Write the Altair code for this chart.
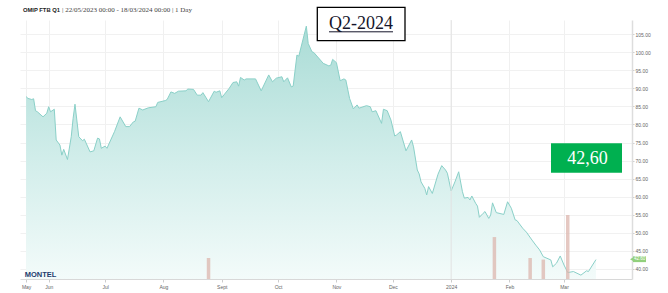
import altair as alt
import pandas as pd

# ---------------- data ----------------
dates = [
    "2023-05-20", "2023-05-21", "2023-05-23", "2023-05-24", "2023-05-25", "2023-05-26", "2023-05-29", "2023-05-31",
    "2023-06-01", "2023-06-02", "2023-06-04", "2023-06-05", "2023-06-07", "2023-06-08", "2023-06-09", "2023-06-11",
    "2023-06-13", "2023-06-14", "2023-06-15", "2023-06-17", "2023-06-19", "2023-06-20", "2023-06-23", "2023-06-25",
    "2023-06-27", "2023-06-28", "2023-06-29", "2023-07-01", "2023-07-02", "2023-07-04", "2023-07-06", "2023-07-09",
    "2023-07-12", "2023-07-14", "2023-07-16", "2023-07-17", "2023-07-19", "2023-07-21", "2023-07-24", "2023-07-28",
    "2023-07-29", "2023-08-02", "2023-08-03", "2023-08-05", "2023-08-07", "2023-08-09", "2023-08-13", "2023-08-14",
    "2023-08-17", "2023-08-19", "2023-08-21", "2023-08-22", "2023-08-25", "2023-08-28", "2023-08-29", "2023-08-31",
    "2023-09-01", "2023-09-05", "2023-09-07", "2023-09-09", "2023-09-10", "2023-09-11", "2023-09-13", "2023-09-14",
    "2023-09-19", "2023-09-22", "2023-09-26", "2023-09-28", "2023-09-30", "2023-10-03", "2023-10-04", "2023-10-06",
    "2023-10-08", "2023-10-09", "2023-10-11", "2023-10-12", "2023-10-16", "2023-10-17", "2023-10-19", "2023-10-20",
    "2023-10-25", "2023-10-28", "2023-10-29", "2023-10-30", "2023-11-01", "2023-11-03", "2023-11-05", "2023-11-06",
    "2023-11-08", "2023-11-10", "2023-11-12", "2023-11-13", "2023-11-17", "2023-11-19", "2023-11-20", "2023-11-22",
    "2023-11-25", "2023-11-26", "2023-11-28", "2023-11-30", "2023-12-02", "2023-12-03", "2023-12-05", "2023-12-08",
    "2023-12-11", "2023-12-12", "2023-12-14", "2023-12-15", "2023-12-16", "2023-12-18", "2023-12-19", "2023-12-20",
    "2023-12-22", "2023-12-25", "2023-12-27", "2023-12-29", "2023-12-30", "2024-01-01", "2024-01-03", "2024-01-05",
    "2024-01-07", "2024-01-08", "2024-01-10", "2024-01-11", "2024-01-12", "2024-01-14", "2024-01-15", "2024-01-16",
    "2024-01-18", "2024-01-19", "2024-01-21", "2024-01-22", "2024-01-23", "2024-01-25", "2024-01-29", "2024-01-31",
    "2024-02-02", "2024-02-04", "2024-02-05", "2024-02-08", "2024-02-10", "2024-02-13", "2024-02-15", "2024-02-17",
    "2024-02-19", "2024-02-23", "2024-02-24", "2024-02-26", "2024-02-28", "2024-03-01", "2024-03-03", "2024-03-06",
    "2024-03-10", "2024-03-13", "2024-03-14", "2024-03-18",
]
prices = [
    87.7, 87.2, 86.9, 87.1, 83.8, 83.5, 82.1, 83.1,
    84.9, 83.5, 84.2, 75.7, 74.3, 71.5, 73.1, 70.3,
    76.6, 81.7, 85.6, 76.6, 75.5, 75.9, 72.4, 72.7,
    76.2, 76.0, 73.4, 74.0, 73.4, 75.7, 78.0, 82.1,
    79.4, 79.4, 80.7, 80.9, 84.5, 84.0, 84.6, 84.9,
    86.1, 86.6, 86.9, 89.0, 88.6, 89.2, 89.3, 89.8,
    89.7, 88.1, 88.1, 88.8, 86.3, 89.2, 88.9, 89.3,
    87.4, 90.0, 91.6, 91.8, 90.6, 93.0, 92.3, 92.6,
    92.6, 89.3, 93.7, 91.8, 92.8, 93.2, 91.8, 92.9,
    90.4, 90.6, 99.2, 98.9, 107.2, 102.4, 100.1, 99.9,
    96.9, 96.2, 96.4, 98.0, 97.1, 92.1, 92.6, 92.3,
    87.2, 84.3, 85.4, 84.5, 85.2, 84.9, 83.5, 83.8,
    80.3, 84.2, 83.8, 81.2, 76.8, 77.1, 78.0, 72.7,
    75.7, 73.8, 67.4, 66.3, 64.1, 62.3, 60.5, 62.8,
    60.9, 66.2, 68.6, 67.4, 66.5, 61.6, 64.1, 66.9,
    61.4, 59.6, 59.8, 59.1, 60.2, 58.2, 57.4, 54.3,
    55.4, 55.9, 54.0, 54.9, 58.3, 55.6, 55.1, 58.6,
    56.8, 53.6, 53.4, 51.3, 50.2, 48.0, 46.6, 45.3,
    43.4, 42.5, 40.6, 41.6, 43.6, 41.1, 39.0, 39.3,
    38.3, 39.5, 39.3, 42.6,
]

vol_dates = ["2023-08-25", "2024-01-24", "2024-02-12", "2024-02-19", "2024-03-03"]
volumes = [8.1, 16.2, 8.1, 7.5, 24.7]

tick_dates = ["2023-05-20", "2023-06-01", "2023-07-01", "2023-08-01", "2023-09-01", "2023-10-01",
              "2023-11-01", "2023-12-01", "2024-01-01", "2024-02-01", "2024-03-01"]
tick_labels = ["May", "Jun", "Jul", "Aug", "Sept", "Oct", "Nov", "Dec", "2024", "Feb", "Mar"]
y_ticks = [40, 45, 50, 55, 60, 65, 70, 75, 80, 85, 90, 95, 100, 105]
divider_dates = ["2024-01-01"]

title_bold = "OMIP FTB Q1"
title_rest = "| 22/05/2023 00:00 - 18/03/2024 00:00 | 1 Day"
contract_label = "Q2-2024"
last_value_label = "42,60"
last_value = 42.60
tag_label = "42.60"
logo = "MONTEL"

# ---------------- tables ----------------
df = pd.DataFrame({"date": pd.to_datetime(dates), "price": prices})
vol_df = pd.DataFrame({"date": pd.to_datetime(vol_dates), "volume": volumes})
div_df = pd.DataFrame({"date": pd.to_datetime(divider_dates)})
one = alt.Data(values=[{}])


def dt(s, hours=0):
    y, m, d = (int(p) for p in s.split("-"))
    return alt.DateTime(year=y, month=m, date=d, hours=hours)


label_expr = "".join(
    f"timeFormat(datum.value, '%Y-%m-%d') == '{d}' ? '{l}' : " for d, l in zip(tick_dates, tick_labels)
) + "''"

W, H = 612, 259
xscale = alt.Scale(domain=[dt("2023-05-19", 10), dt("2024-04-03", 12)])
yscale = alt.Scale(domain=[37.23, 108.9], nice=False, zero=False)

x_axis = alt.Axis(
    values=[dt(d) for d in tick_dates], labelExpr=label_expr, title=None,
    labelFontSize=5, labelColor="#666666", labelFont="Liberation Sans",
    tickSize=3, tickColor="#cccccc", domainColor="#d8d8d8", domainWidth=1,
    gridColor="#f0f0f0", gridWidth=1, labelPadding=2, labelOverlap=False, labelFlush=False,
)
y_axis = alt.Axis(
    orient="right", values=y_ticks, format=".2f", title=None,
    labelFontSize=5, labelColor="#666666", labelFont="Liberation Sans",
    tickSize=2, tickColor="#cccccc", domainColor="#dddddd", domainWidth=1.5,
    gridColor="#f1f1f1", gridWidth=1, labelPadding=1,
)

grad = alt.Gradient(
    gradient="linear",
    stops=[
        alt.GradientStop(color="#aadcd6", offset=0),
        alt.GradientStop(color="#d3eeeb", offset=0.55),
        alt.GradientStop(color="#f3fbfa", offset=1),
    ],
    x1=1, x2=1, y1=0, y2=1,
)

area = alt.Chart(df).mark_area(color=grad, clip=True).encode(
    x=alt.X("date:T", scale=xscale, axis=x_axis),
    y=alt.Y("price:Q", scale=yscale, axis=y_axis),
    y2=alt.Y2(datum=37.23),
)
line = alt.Chart(df).mark_line(color="#8ad0c8", strokeWidth=1, clip=True).encode(
    x="date:T",
    y=alt.Y("price:Q", scale=yscale, axis=None),
)
divider = alt.Chart(div_df).mark_rule(color="#e2e2e2", strokeWidth=1).encode(x="date:T")

bars = alt.Chart(vol_df).mark_bar(size=3.5, color="#dcb6ae", opacity=0.75).encode(
    x="date:T",
    y=alt.Y("volume:Q", scale=alt.Scale(domain=[0, 100], nice=False), axis=None),
)

t1 = alt.Chart(one).mark_text(text=title_bold, align="left", baseline="middle", font="Liberation Sans",
                              fontWeight="bold", fontSize=5.8, color="#222222").encode(
    x=alt.value(3), y=alt.value(-10))
t2 = alt.Chart(one).mark_text(text=title_rest, align="left", baseline="middle", font="Liberation Serif",
                              fontSize=7, color="#444444").encode(
    x=alt.value(42), y=alt.value(-10))

q_box = alt.Chart(one).mark_rect(fill="white", stroke="black", strokeWidth=1.3).encode(
    x=alt.value(297.3), x2=alt.value(385), y=alt.value(-12.7), y2=alt.value(20.7))
q_text = alt.Chart(one).mark_text(text=contract_label, align="center", baseline="alphabetic",
                                  font="Liberation Serif", fontSize=18, color="#15152a").encode(
    x=alt.value(341), y=alt.value(9.3))
q_under = alt.Chart(one).mark_rule(color="#15152a", strokeWidth=1).encode(
    x=alt.value(309), x2=alt.value(373), y=alt.value(11.8))

g_box = alt.Chart(one).mark_rect(fill="#00b050").encode(
    x=alt.value(531), x2=alt.value(602), y=alt.value(123.3), y2=alt.value(152.7))
g_text = alt.Chart(one).mark_text(text=last_value_label, align="center", baseline="alphabetic",
                                  font="Liberation Serif", fontSize=18, color="white").encode(
    x=alt.value(567.5), y=alt.value(144))

logo_t = alt.Chart(one).mark_text(text=logo, align="center", baseline="alphabetic", font="Liberation Sans",
                                  fontWeight="bold", fontSize=7.5, color="#1d3c6e").encode(
    x=alt.value(20.5), y=alt.value(257.3))

tag_rect = alt.Chart(one).mark_rect(fill="#92d07c").encode(
    x=alt.value(613), x2=alt.value(626),
    y=alt.Y(datum=last_value + 0.9, scale=yscale, axis=None),
    y2=alt.Y2(datum=last_value - 0.7),
)
tag_tip = alt.Chart(one).mark_point(shape="triangle-left", filled=True, size=12, color="#92d07c", opacity=1).encode(
    x=alt.value(611.5), y=alt.Y(datum=last_value + 0.1, scale=yscale, axis=None))
tag_text = alt.Chart(one).mark_text(text=tag_label, align="center", baseline="middle", font="Liberation Sans",
                                    fontSize=4.5, color="white").encode(
    x=alt.value(619.5), y=alt.Y(datum=last_value + 0.1, scale=yscale, axis=None))

chart = alt.layer(
    area, line, divider, bars, t1, t2, q_box, q_text, q_under, g_box, g_text, logo_t,
    tag_rect, tag_tip, tag_text,
).resolve_scale(y="independent").properties(
    width=W, height=H,
    autosize=alt.AutoSizeParams(type="none"),
    padding={"left": 20, "top": 20, "right": 36, "bottom": 14},
    background="white",
).configure_view(stroke=None)

chart.save("out.html", embed_options={"renderer": "svg", "actions": False})
